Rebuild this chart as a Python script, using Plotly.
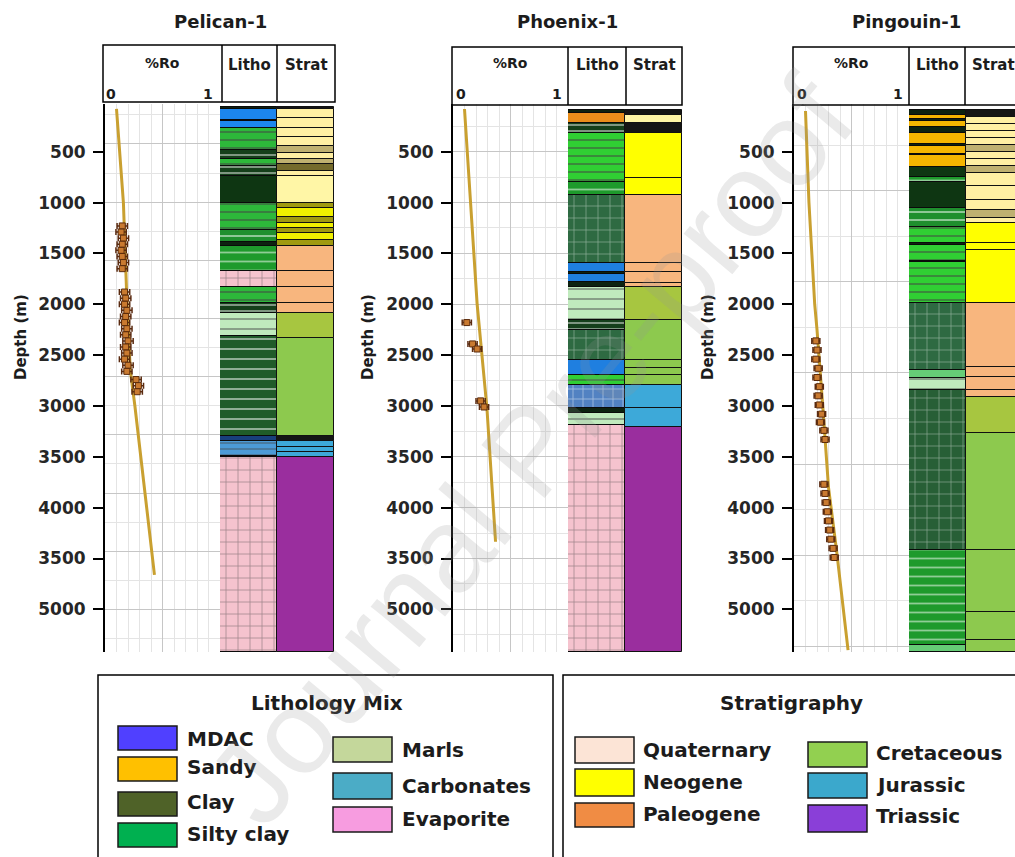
import plotly.graph_objects as go

OFF = 0
W, H = 1015, 857

# ------------------------------------------------------------------ data
WELLS = ["Pelican-1", "Phoenix-1", "Pingouin-1"]

DEPTH_TICKS = [500, 1000, 1500, 2000, 2500, 3000, 3500, 4000, 4500, 5000]
DEPTH_TICK_TEXT = ["500", "1000", "1500", "2000", "2500", "3000", "3500", "4000", "3500", "5000"]
DEPTH_TOP, DEPTH_BOTTOM = 31, 5419

# %Ro trend lines (depth m, %Ro)
PEL_TREND_DEPTH = [80, 1000, 1950, 2650, 3000, 3490, 4660]
PEL_TREND_RO = [0.10, 0.16, 0.19, 0.22, 0.26, 0.31, 0.43]
PHX_TREND_DEPTH = [80, 1000, 2000, 2480, 3020, 4335]
PHX_TREND_RO = [0.10, 0.15, 0.21, 0.25, 0.295, 0.37]
PNG_TREND_DEPTH = [100, 1000, 2000, 2250, 3000, 3800, 4420, 5400]
PNG_TREND_RO = [0.10, 0.13, 0.18, 0.20, 0.25, 0.30, 0.37, 0.47]

# measured %Ro samples
PEL_PT_DEPTH = [1230, 1290, 1350, 1410, 1470, 1530, 1590, 1650,
                1880, 1940, 2000, 2060, 2120, 2180, 2240, 2300, 2360, 2420, 2480, 2540, 2600, 2660,
                2740, 2800, 2860]
PEL_PT_RO = [0.15, 0.14, 0.16, 0.15, 0.14, 0.15, 0.16, 0.15,
             0.17, 0.18, 0.17, 0.19, 0.18, 0.17, 0.19, 0.18, 0.20, 0.18, 0.19, 0.17, 0.20, 0.19,
             0.27, 0.29, 0.28]
PHX_PT_DEPTH = [2180, 2390, 2440, 2950, 3010]
PHX_PT_RO = [0.12, 0.17, 0.21, 0.24, 0.27]
PNG_PT_DEPTH = [2360, 2450, 2540, 2630, 2720, 2810, 2900, 2990, 3080, 3160, 3240, 3330,
                3770, 3860, 3950, 4040, 4130, 4220, 4310, 4400, 4490]
PNG_PT_RO = [0.19, 0.20, 0.19, 0.21, 0.20, 0.22, 0.21, 0.22, 0.24, 0.23, 0.26, 0.27,
             0.26, 0.27, 0.28, 0.29, 0.30, 0.31, 0.32, 0.34, 0.35]
RO_ERR = [0.045, 0.04, 0.035]

# lithology columns (layer top depth, class)
PEL_LITHO_TOP = [60, 80, 185, 194, 271, 483, 569, 639, 743, 1005, 1268, 1388, 1425, 1670, 1827,
                 1985, 2082, 2316, 3296, 3348, 3488, 3502]
PEL_LITHO_CLS = ["dark", "mdac", "dark", "mdac", "silty", "dark_stripe", "silty", "dark_stripe",
                 "clay_dark", "silty", "silty_dark", "dark", "green_dash", "evaporite", "silty",
                 "dark_stripe", "marls", "clay", "dark_blue", "carbonates", "dark", "evaporite"]
PHX_LITHO_TOP = [91, 120, 219, 317, 799, 927, 1594, 1683, 1703, 1781, 1830, 2155, 2254, 2548,
                 2696, 2794, 3020, 3069, 3187]
PHX_LITHO_CLS = ["dark", "sandy_orange", "dark_stripe", "bright_green", "green_dash", "carb_green",
                 "blue", "dark", "blue", "dark", "marls", "dark_stripe", "carb_green", "blue",
                 "bright_green", "carb_blue", "dark", "marls", "evaporite"]
PNG_LITHO_TOP = [91, 140, 180, 195, 258, 317, 425, 440, 520, 535, 651, 749, 799, 1054, 1241,
                 1400, 1418, 1570, 1585, 1988, 2647, 2726, 2844, 4417, 5351]
PNG_LITHO_CLS = ["dark", "sandy", "dark", "sandy", "dark", "sandy", "dark", "sandy", "dark",
                 "sandy", "clay_dark", "green_dash", "clay_dark", "silty_dark", "bright_green",
                 "dark", "bright_green", "dark", "bright_green", "carb_green", "light_green",
                 "marls", "carb_green_dark", "green_dash", "light_green"]

# stratigraphy columns (layer top depth, class)
PEL_STRAT_TOP = [60, 80, 169, 267, 355, 444, 513, 572, 621, 690, 739, 1004, 1053, 1142, 1201,
                 1250, 1299, 1368, 1427, 1673, 1830, 1988, 2086, 2327, 3296, 3345, 3404, 3453, 3502]
PEL_STRAT_CLS = ["black", "quat", "quat", "quat", "quat", "khaki", "quat", "khaki", "olive_dark",
                 "quat", "pale", "olive", "neo", "olive", "neo", "olive", "neo", "olive", "paleo",
                 "paleo", "paleo", "paleo", "olive_green", "cret", "black", "jur", "jur", "jur", "tri"]
PHX_STRAT_TOP = [91, 140, 219, 317, 760, 927, 1594, 1683, 1791, 1830, 2155, 2548, 2627, 2696,
                 2794, 3020, 3207]
PHX_STRAT_CLS = ["black", "pale", "black", "neo_bright", "neo_bright", "paleo", "paleo", "paleo",
                 "paleo", "olive_green", "cret", "cret", "cret", "cret", "jur", "jur", "tri"]
PNG_STRAT_TOP = [91, 159, 228, 296, 365, 434, 503, 572, 641, 709, 836, 975, 1074, 1152, 1201,
                 1398, 1467, 1988, 2617, 2716, 2843, 2912, 3266, 4417, 5026, 5301]
PNG_STRAT_CLS = ["black", "quat", "quat", "quat", "quat", "khaki", "quat", "quat", "khaki", "quat",
                 "quat", "quat", "khaki", "quat", "neo_bright", "neo_bright", "neo_bright", "paleo",
                 "paleo", "paleo", "paleo", "olive_green", "cret", "cret", "cret", "cret"]

LITHO_LEGEND = ["MDAC", "Sandy", "Clay", "Silty clay", "Marls", "Carbonates", "Evaporite"]
STRAT_LEGEND = ["Quaternary", "Neogene", "Paleogene", "Cretaceous", "Jurassic", "Triassic"]

# ------------------------------------------------------------------ styles
FONT = "DejaVu Sans"
TXT = "#1c1c1c"

LITHO_STYLE = {  # color, pattern shape, pattern colour, size, solidity
    "dark": ("#0D2210", "", "#000000", 8, 0.2),
    "mdac": ("#1C86EE", "", "#000000", 8, 0.2),
    "silty": ("#2DB83A", "-", "#0C6A1A", 8, 0.25),
    "dark_stripe": ("#153F1A", "-", "#2FA03E", 6, 0.3),
    "clay_dark": ("#0E3612", "", "#000000", 8, 0.2),
    "silty_dark": ("#1F8F2E", "-", "#0B4A12", 8, 0.25),
    "green_dash": ("#1E9A2C", "-", "#0A4212", 9, 0.2),
    "evaporite": ("#F5C3CE", "+", "#3A1A22", 12, 0.12),
    "marls": ("#C0EABD", "-", "#3F8F45", 10, 0.18),
    "clay": ("#205C29", "-", "#0A2A0E", 10, 0.2),
    "dark_blue": ("#183F7C", "", "#000000", 8, 0.2),
    "carbonates": ("#4C9BD6", "-", "#1A3A7A", 6, 0.25),
    "sandy": ("#F5B500", "", "#000000", 8, 0.2),
    "sandy_orange": ("#E98D1B", "", "#000000", 8, 0.2),
    "carb_green": ("#2E6A42", "+", "#7FB08D", 12, 0.1),
    "carb_green_dark": ("#275F36", "+", "#74AA82", 12, 0.1),
    "blue": ("#1F7FE0", "", "#000000", 8, 0.2),
    "bright_green": ("#30CF33", "-", "#0E7A1C", 8, 0.25),
    "carb_blue": ("#5282C2", "+", "#1B3060", 10, 0.15),
    "light_green": ("#66CC77", "", "#000000", 8, 0.2),
}
STRAT_STYLE = {
    "black": "#151515", "quat": "#FFEFA3", "pale": "#FFF6A6", "khaki": "#BFB070",
    "olive_dark": "#746A2C", "olive": "#A09A10", "neo": "#F0F000", "neo_bright": "#FFFF00",
    "paleo": "#F8B67E", "olive_green": "#A7C640", "cret": "#8DC94E", "jur": "#3DA9D9",
    "tri": "#9A2E9E",
}
LITHO_LEG_COLORS = ["#5040FF", "#FFC000", "#4F6228", "#00B050", "#C4D79B", "#4BACC6", "#F79CE0"]
STRAT_LEG_COLORS = ["#FCE4D6", "#FFFF00", "#F08C44", "#92D050", "#3BA8CC", "#8A3FD8"]

# geometry (window pixels)
RO_DOM = [(105, 220), (453, 568), (794, 909)]
COL_DOM = [(220, 334), (568, 682), (909, 1015)]
COL_START = -0.5
PLOT_TOP, PLOT_BOT = 104, 652
GRID = [(5000, 572), (0, 500), (883, 896)]
HEADERS = [(103, 45, 335, 102, 222, 277), (452, 47, 682, 105, 568, 626), (793, 47, 1025, 105, 909, 965)]
TITLE_X = [220, 567, 906]
DEPTH_LABEL_X = [21, 368, 708]
RO0_X = [111, 461, 802]
RO1_X = [208, 557, 898]


def px(x):
    return (x - OFF) / W


def py(y):
    return 1 - (y - OFF) / H


def ann(text, x, y, size, bold=True, xanchor="center", yanchor="middle", angle=0,
        color=TXT, family=FONT):
    return dict(text=f"<b>{text}</b>" if bold else text, x=px(x), y=py(y), xref="paper",
                yref="paper", showarrow=False, xanchor=xanchor, yanchor=yanchor,
                textangle=angle, font=dict(family=family, size=size, color=color))


fig = go.Figure()
annotations, shapes = [], []
layout = dict(width=W, height=H, margin=dict(l=0, r=0, t=0, b=0), paper_bgcolor="white",
              plot_bgcolor="white", barmode="overlay", bargap=0, showlegend=False)

trends = [(PEL_TREND_DEPTH, PEL_TREND_RO), (PHX_TREND_DEPTH, PHX_TREND_RO),
          (PNG_TREND_DEPTH, PNG_TREND_RO)]
points = [(PEL_PT_DEPTH, PEL_PT_RO), (PHX_PT_DEPTH, PHX_PT_RO), (PNG_PT_DEPTH, PNG_PT_RO)]
lithos = [(PEL_LITHO_TOP, PEL_LITHO_CLS), (PHX_LITHO_TOP, PHX_LITHO_CLS),
          (PNG_LITHO_TOP, PNG_LITHO_CLS)]
strats = [(PEL_STRAT_TOP, PEL_STRAT_CLS), (PHX_STRAT_TOP, PHX_STRAT_CLS),
          (PNG_STRAT_TOP, PNG_STRAT_CLS)]

ydom = [py(PLOT_BOT), py(PLOT_TOP)]
yrange = [DEPTH_BOTTOM, DEPTH_TOP]


def key(a):
    return a[0] + "axis" + a[1:]


for i, well in enumerate(WELLS):
    xr = ["x", "x3", "x5"][i]
    xc = ["x2", "x4", "x6"][i]
    yd = ["y", "y3", "y5"][i]
    yl = ["y2", "y4", "y6"][i]

    layout[key(xr)] = dict(domain=[px(RO_DOM[i][0]), px(RO_DOM[i][1])], anchor=yd, range=[0, 1],
                           showgrid=True, gridcolor="#C6C6C6", gridwidth=1, tick0=0, dtick=0.5,
                           minor=dict(showgrid=True, dtick=0.1, gridcolor="#E4E4E4"),
                           showticklabels=False, ticks="", zeroline=False, showline=False)
    cx0, cx1 = COL_DOM[i][0], min(COL_DOM[i][1], OFF + W)
    layout[key(xc)] = dict(domain=[px(cx0), px(cx1)], anchor=yd,
                           type="category", categoryorder="array",
                           categoryarray=["Litho", "Strat"],
                           range=[COL_START, COL_START + (cx1 - cx0) / 57],
                           showgrid=False, showticklabels=False, ticks="", zeroline=False,
                           showline=False)
    t0, dt = GRID[i]
    layout[key(yd)] = dict(domain=ydom, anchor=xr, range=yrange, showgrid=True,
                           gridcolor="#C6C6C6", gridwidth=1, tick0=t0, dtick=dt,
                           minor=dict(showgrid=True, tick0=t0, dtick=dt / 2, gridcolor="#E4E4E4"),
                           showticklabels=False, ticks="", zeroline=False, showline=False)
    layout[key(yl)] = dict(overlaying=yd, anchor=xr, side="left", range=yrange,
                           tickmode="array", tickvals=DEPTH_TICKS, ticktext=DEPTH_TICK_TEXT,
                           ticks="outside", ticklen=10, tickwidth=1.5, tickcolor="#000000",
                           ticklabelstandoff=4,
                           showline=True, linecolor="#000000", linewidth=2, showgrid=False,
                           zeroline=False,
                           tickfont=dict(family=FONT, size=17, color="#262626", weight="bold"))

    # dummy trace so the label axis is drawn
    fig.add_trace(go.Scatter(x=[None], y=[None], xaxis=xr, yaxis=yl, showlegend=False,
                             hoverinfo="skip"))

    # lithology column
    tops, cls = lithos[i]
    bots = tops[1:] + [DEPTH_BOTTOM]
    fig.add_trace(go.Bar(
        x=["Litho"] * len(tops), y=[b - t for t, b in zip(tops, bots)], base=tops,
        width=[1] * len(tops), xaxis=xc, yaxis=yd, hoverinfo="skip",
        marker=dict(color=[LITHO_STYLE[c][0] for c in cls],
                    line=dict(color="#0a0a0a", width=1),
                    pattern=dict(shape=[LITHO_STYLE[c][1] for c in cls],
                                 fgcolor=[LITHO_STYLE[c][2] for c in cls],
                                 size=[LITHO_STYLE[c][3] for c in cls],
                                 solidity=[LITHO_STYLE[c][4] for c in cls]))))
    # stratigraphy column
    tops, cls = strats[i]
    bots = tops[1:] + [DEPTH_BOTTOM]
    fig.add_trace(go.Bar(
        x=["Strat"] * len(tops), y=[b - t for t, b in zip(tops, bots)], base=tops,
        width=[1] * len(tops), xaxis=xc, yaxis=yd, hoverinfo="skip",
        marker=dict(color=[STRAT_STYLE[c] for c in cls], line=dict(color="#111111", width=1))))

    # %Ro trend and samples
    d, r = trends[i]
    fig.add_trace(go.Scatter(x=r, y=d, mode="lines", xaxis=xr, yaxis=yd, hoverinfo="skip",
                             line=dict(color="#C9A030", width=3)))
    d, r = points[i]
    fig.add_trace(go.Scatter(x=r, y=d, mode="markers", xaxis=xr, yaxis=yd, hoverinfo="skip",
                             marker=dict(symbol="square", size=6, color="#C97A30",
                                         line=dict(color="#5A2A0A", width=1)),
                             error_x=dict(type="constant", value=RO_ERR[i], color="#5A2A10",
                                          thickness=1.5, width=3)))

    # header box
    x0, y0, x1, y1, d1, d2 = HEADERS[i]
    shapes.append(dict(type="rect", xref="paper", yref="paper", x0=px(x0), x1=px(x1),
                       y0=py(y1), y1=py(y0), line=dict(color="#000000", width=1.5)))
    for dx in (d1, d2):
        shapes.append(dict(type="line", xref="paper", yref="paper", x0=px(dx), x1=px(dx),
                           y0=py(y1), y1=py(y0), line=dict(color="#000000", width=1.5)))
    annotations.append(ann("%Ro", (x0 + d1) / 2, 63, 14))
    annotations.append(ann("0", RO0_X[i], 94, 14))
    annotations.append(ann("1", RO1_X[i], 94, 14))
    annotations.append(ann("Litho", (d1 + d2) / 2, 65, 15))
    annotations.append(ann("Strat", (d2 + x1) / 2 if i < 2 else 993, 65, 15))
    annotations.append(ann(well, TITLE_X[i], 22, 18))
    annotations.append(ann("Depth (m)", DEPTH_LABEL_X[i], 337, 15, angle=-90))

# ------------------------------------------------------------------ legends
shapes.append(dict(type="rect", xref="paper", yref="paper", x0=px(98), x1=px(553),
                   y0=py(880), y1=py(675), line=dict(color="#000000", width=1.5)))
shapes.append(dict(type="rect", xref="paper", yref="paper", x0=px(563), x1=px(1040),
                   y0=py(880), y1=py(675), line=dict(color="#000000", width=1.5)))
annotations.append(ann("Lithology Mix", 327, 703, 20))
annotations.append(ann("Stratigraphy", 791, 703, 20))

LITHO_LEG_POS = [(118, 726, 750, 739), (118, 757, 781, 767), (118, 792, 816, 802),
                 (118, 823, 847, 834), (333, 737, 762, 750), (333, 773, 799, 786),
                 (333, 807, 832, 819)]
for name, col, (lx, ya, yb, ty) in zip(LITHO_LEGEND, LITHO_LEG_COLORS, LITHO_LEG_POS):
    shapes.append(dict(type="rect", xref="paper", yref="paper", x0=px(lx), x1=px(lx + 59),
                       y0=py(yb), y1=py(ya), fillcolor=col,
                       line=dict(color="#1a1a1a", width=1.5)))
    annotations.append(ann(name, lx + 67, ty, 20, xanchor="left"))

STRAT_LEG_POS = [(575, 737, 763, 750), (575, 769, 796, 782), (575, 803, 827, 814),
                 (808, 742, 767, 753), (808, 773, 798, 785), (808, 805, 832, 816)]
for name, col, (lx, ya, yb, ty) in zip(STRAT_LEGEND, STRAT_LEG_COLORS, STRAT_LEG_POS):
    shapes.append(dict(type="rect", xref="paper", yref="paper", x0=px(lx), x1=px(lx + 59),
                       y0=py(yb), y1=py(ya), fillcolor=col,
                       line=dict(color="#1a1a1a", width=1.5)))
    annotations.append(ann(name, lx + 66, ty, 20, xanchor="left"))

# watermark
annotations.append(ann("Journal Pre-proof", 530, 450, 120, bold=False, angle=-50,
                       color="rgba(150,150,150,0.2)", family="Liberation Sans"))

layout["shapes"] = shapes
layout["annotations"] = annotations
fig.update_layout(**layout)
fig.write_html("out.html", config={"displayModeBar": False},
               post_script="document.body.style.margin='0';document.body.style.overflow='hidden';")
